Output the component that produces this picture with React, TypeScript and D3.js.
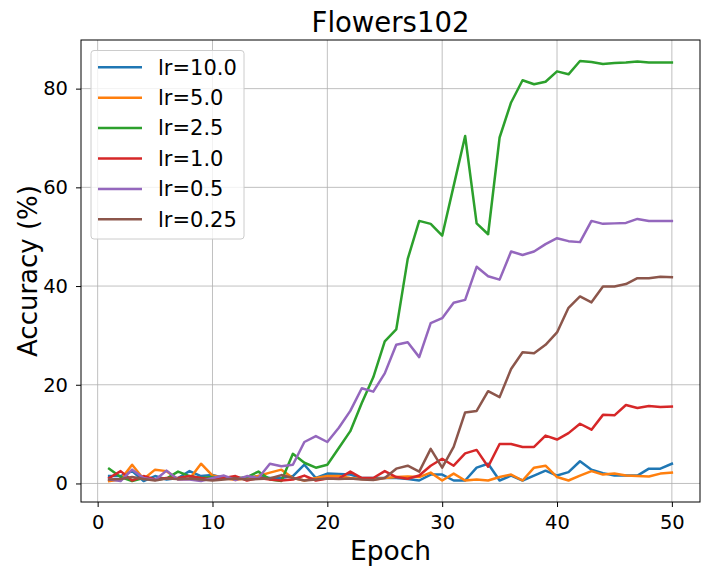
import React, { useRef, useEffect } from "react";
import * as d3 from "d3";

const epochs = d3.range(1, 51);

const labels = ["lr=10.0", "lr=5.0", "lr=2.5", "lr=1.0", "lr=0.5", "lr=0.25"];
const colors = ["#1f77b4", "#ff7f0e", "#2ca02c", "#d62728", "#9467bd", "#8c564b"];

const lr10 = [
  1.5, 1.5, 2.5, 0.5, 1.5, 0.8, 1.1, 2.5, 1.5, 1.7, 1.1, 1.1, 1.1, 1.5, 1.1, 1.1, 1.5, 3.8, 1.1, 2.0,
  1.9, 1.8, 1.1, 1.1, 1.1, 1.1, 0.9, 0.6, 1.8, 1.8, 0.6, 0.6, 3.2, 4.0, 0.6, 1.6, 0.6, 1.6, 2.6, 1.6,
  2.3, 4.5, 2.8, 2.1, 1.6, 1.6, 1.6, 3.0, 3.0, 4.0,
];
const lr5 = [
  0.5, 0.8, 3.8, 0.9, 2.8, 2.5, 0.8, 0.9, 4.0, 1.6, 1.1, 0.7, 1.1, 1.5, 2.2, 2.8, 1.1, 0.6, 1.1, 1.5,
  1.5, 1.1, 0.9, 0.8, 1.1, 1.3, 1.4, 1.3, 2.2, 0.6, 2.0, 0.6, 0.8, 0.6, 1.3, 1.8, 0.6, 3.2, 3.6, 1.3,
  0.6, 1.6, 2.5, 1.8, 2.0, 1.6, 1.5, 1.4, 2.0, 2.2,
];
const lr25 = [
  3.0, 1.3, 0.5, 1.1, 0.8, 1.0, 2.4, 1.5, 1.1, 1.3, 1.1, 0.9, 1.3, 2.4, 0.8, 0.5, 6.0, 4.2, 3.2, 3.8,
  7.2, 10.6, 16.3, 21.5, 28.8, 31.2, 45.5, 53.2, 52.6, 50.2, 60.3, 70.4, 52.7, 50.5, 70.1, 77.2, 81.7, 80.9, 81.4, 83.5,
  82.9, 85.6, 85.4, 85.0, 85.2, 85.3, 85.5, 85.3, 85.3, 85.3,
];
const lr1 = [
  1.1, 2.5, 0.6, 1.5, 0.8, 1.1, 1.1, 1.5, 1.1, 0.8, 1.1, 1.5, 0.6, 1.1, 0.8, 0.6, 0.8, 1.6, 0.6, 1.0,
  1.0, 2.4, 1.1, 1.1, 2.5, 1.3, 0.95, 1.6, 3.6, 5.0, 3.6, 6.1, 6.8, 3.4, 8.0, 8.0, 7.4, 7.4, 9.7, 8.9,
  10.2, 12.1, 10.9, 13.9, 13.8, 15.9, 15.3, 15.7, 15.5, 15.6,
];
const lr05 = [
  0.8, 0.5, 2.8, 1.1, 0.7, 2.6, 0.8, 0.8, 0.5, 1.1, 1.6, 0.7, 1.5, 1.1, 4.0, 3.5, 3.8, 8.4, 9.6, 8.4,
  11.3, 14.7, 19.3, 18.6, 22.3, 28.1, 28.6, 25.6, 32.5, 33.5, 36.6, 37.2, 43.9, 42.0, 41.3, 47.0, 46.3, 47.0, 48.5, 49.7,
  49.1, 48.9, 53.2, 52.6, 52.7, 52.8, 53.6, 53.2, 53.2, 53.2,
];
const lr025 = [
  0.8, 0.9, 1.3, 0.9, 0.6, 1.0, 0.9, 1.0, 0.8, 0.6, 0.8, 1.0, 0.8, 0.9, 1.0, 1.7, 1.1, 0.6, 0.8, 1.0,
  0.9, 1.0, 0.8, 0.7, 1.1, 3.0, 3.6, 2.4, 7.0, 3.2, 7.4, 14.4, 14.7, 18.7, 17.5, 23.2, 26.6, 26.4, 28.1, 30.6,
  35.6, 37.9, 36.7, 39.9, 39.9, 40.4, 41.6, 41.6, 41.9, 41.8,
];

const series = [lr10, lr5, lr25, lr1, lr05, lr025];

const xTicks = [0, 10, 20, 30, 40, 50];
const yTicks = [0, 20, 40, 60, 80];

const W = 709;
const H = 575;
const margin = { left: 81, right: 9, top: 40, bottom: 73 };

const App: React.FC = () => {
  const svgRef = useRef<SVGSVGElement>(null);

  useEffect(() => {
    if (!svgRef.current) return;
    const svg = d3.select(svgRef.current);
    svg.selectAll("*").remove();

    const font = "DejaVu Sans, sans-serif";
    const x0 = margin.left;
    const x1 = W - margin.right;
    const y0 = H - margin.bottom;
    const y1 = margin.top;

    // matplotlib-style 5% margins around the data
    const allVals = series.flat();
    const vMin = d3.min(allVals) as number;
    const vMax = d3.max(allVals) as number;
    const xPad = (50 - 1) * 0.05;
    const yPad = (vMax - vMin) * 0.05;

    const x = d3.scaleLinear().domain([1 - xPad, 50 + xPad]).range([x0, x1]);
    const y = d3.scaleLinear().domain([vMin - yPad, vMax + yPad]).range([y0, y1]);

    // Grid
    const grid = svg.append("g").attr("stroke", "#b0b0b0").attr("stroke-width", 0.8);
    xTicks.forEach((t) => {
      grid.append("line").attr("x1", x(t)).attr("x2", x(t)).attr("y1", y0).attr("y2", y1);
    });
    yTicks.forEach((t) => {
      grid.append("line").attr("x1", x0).attr("x2", x1).attr("y1", y(t)).attr("y2", y(t));
    });

    // Lines
    const line = d3
      .line<number>()
      .x((_, i) => x(epochs[i]))
      .y((d) => y(d));

    const plot = svg.append("g");
    series.forEach((s, i) => {
      plot
        .append("path")
        .datum(s)
        .attr("d", line)
        .attr("fill", "none")
        .attr("stroke", colors[i])
        .attr("stroke-width", 2.5)
        .attr("stroke-linejoin", "round")
        .attr("stroke-linecap", "square");
    });

    // Spines
    svg
      .append("rect")
      .attr("x", x0)
      .attr("y", y1)
      .attr("width", x1 - x0)
      .attr("height", y0 - y1)
      .attr("fill", "none")
      .attr("stroke", "black")
      .attr("stroke-width", 1);

    // Axes
    const xAxis = svg
      .append("g")
      .attr("transform", `translate(0,${y0})`)
      .call(d3.axisBottom(x).tickValues(xTicks).tickSize(5).tickPadding(8));
    const yAxis = svg
      .append("g")
      .attr("transform", `translate(${x0},0)`)
      .call(d3.axisLeft(y).tickValues(yTicks).tickSize(5).tickPadding(8));
    [xAxis, yAxis].forEach((a) => {
      a.select(".domain").remove();
      a.selectAll("line").attr("stroke", "black");
      a.selectAll("text").attr("font-family", font).attr("font-size", 19.5).attr("fill", "black");
    });

    // Title & labels
    svg
      .append("text")
      .attr("x", (x0 + x1) / 2)
      .attr("y", 32)
      .attr("text-anchor", "middle")
      .attr("font-family", font)
      .attr("font-size", 27.5)
      .text("Flowers102");
    svg
      .append("text")
      .attr("x", (x0 + x1) / 2)
      .attr("y", 560)
      .attr("text-anchor", "middle")
      .attr("font-family", font)
      .attr("font-size", 26.5)
      .text("Epoch");
    svg
      .append("text")
      .attr("transform", `translate(36.5,${(y0 + y1) / 2}) rotate(-90)`)
      .attr("text-anchor", "middle")
      .attr("font-family", font)
      .attr("font-size", 26)
      .text("Accuracy (%)");

    // Legend
    const lg = svg.append("g").attr("transform", "translate(91,50.5)");
    lg.append("rect")
      .attr("width", 153)
      .attr("height", 188.5)
      .attr("rx", 3)
      .attr("fill", "white")
      .attr("fill-opacity", 0.8)
      .attr("stroke", "#cccccc")
      .attr("stroke-width", 1);
    labels.forEach((lab, i) => {
      const ly = 16.8 + i * 30.4;
      lg.append("line")
        .attr("x1", 7)
        .attr("x2", 51)
        .attr("y1", ly)
        .attr("y2", ly)
        .attr("stroke", colors[i])
        .attr("stroke-width", 2.5);
      lg.append("text")
        .attr("x", 67)
        .attr("y", ly)
        .attr("dy", "0.35em")
        .attr("font-family", font)
        .attr("font-size", 21)
        .text(lab);
    });

    svg.attr("width", W).attr("height", H);
  }, []);

  return <svg ref={svgRef} style={{ position: "absolute", left: 0, top: 0 }}></svg>;
};

export default App;
